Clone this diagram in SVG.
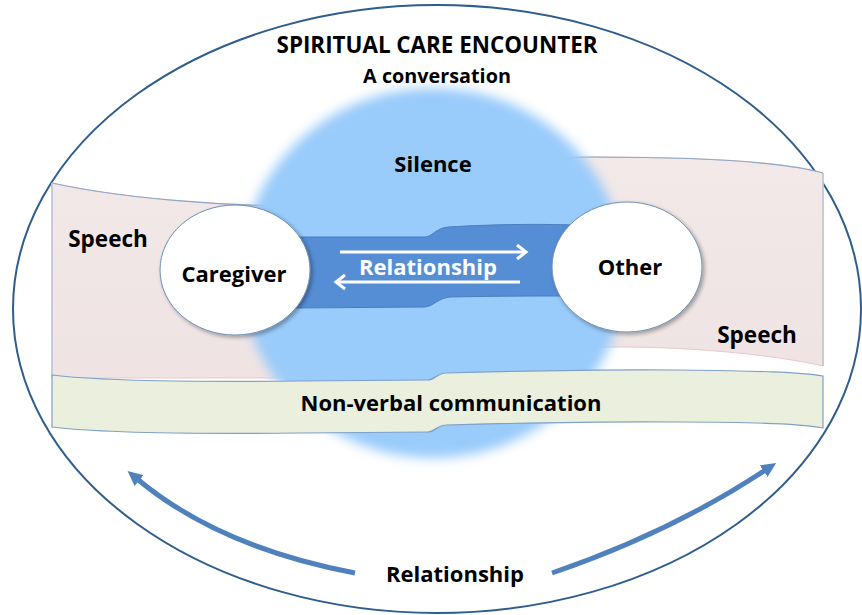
<svg xmlns="http://www.w3.org/2000/svg" width="862" height="615" viewBox="0 0 862 615">
  <defs>
    <style>
      .lbl { font-family: "Open Sans", Lato, "Liberation Sans", sans-serif; font-weight: bold; fill: #000; text-anchor: middle; }
      .title { font-size: 22.4px; }
      .big { font-size: 22px; }
      .mid { font-size: 22.5px; }
      .sm { font-size: 19.8px; }
      .white { fill: #fff; }
      .node-ell { fill: #fff; stroke: #6F8FB8; stroke-width: 1; filter: url(#shadow); }
      .arc { fill: none; stroke: #4F81BD; stroke-width: 5; }
      .inner { fill: none; stroke: #fff; stroke-width: 3; }
    </style>
    <filter id="blur" x="-20%" y="-20%" width="140%" height="140%">
      <feGaussianBlur stdDeviation="6"/>
    </filter>
    <filter id="shadow" x="-20%" y="-20%" width="140%" height="140%">
      <feGaussianBlur in="SourceAlpha" stdDeviation="2"/>
      <feOffset dx="2" dy="2" result="o"/>
      <feComponentTransfer><feFuncA type="linear" slope="0.35"/></feComponentTransfer>
      <feMerge><feMergeNode/><feMergeNode in="SourceGraphic"/></feMerge>
    </filter>
    <linearGradient id="pink" x1="0" y1="0" x2="0" y2="1">
      <stop offset="0" stop-color="#F3E9E9"/>
      <stop offset="1" stop-color="#EFE3E3"/>
    </linearGradient>
    <marker id="tri" markerUnits="userSpaceOnUse" markerWidth="16" markerHeight="14" viewBox="0 0 16 14" refX="4" refY="7" orient="auto">
      <path d="M0,0 L15,7 L0,14 Z" fill="#4F81BD"/>
    </marker>
    <marker id="chev" markerUnits="userSpaceOnUse" markerWidth="14" markerHeight="18" viewBox="0 0 14 18" refX="11" refY="9" orient="auto">
      <path d="M2,2 L11,9 L2,16" fill="none" stroke="#fff" stroke-width="3"/>
    </marker>
  </defs>

  <rect width="862" height="615" fill="#fff"/>

  <g id="encounter">
    <ellipse cx="437" cy="309" rx="424" ry="304" fill="none" stroke="#2F5D8C" stroke-width="2"/>
  </g>

  <g id="speech-band">
    <path d="M52,183 C120,198 220,206 300,206 C380,206 480,157 590,157 C700,157 780,161 823,173 L823,366 C780,356 700,347 620,347 C520,347 440,378 300,378 L52,378 Z" fill="url(#pink)" stroke="#E8C8CC" stroke-width="1"/>
    <path d="M52,183 C120,198 220,206 300,206 C380,206 480,157 590,157 C700,157 780,161 823,173" fill="none" stroke="#8EA8C9" stroke-width="1.2"/>
    <path d="M52,183 L52,378 M823,173 L823,366" fill="none" stroke="#B9C6D8" stroke-width="1.5"/>
  </g>

  <g id="silence">
    <ellipse cx="433" cy="273" rx="192" ry="185" fill="#99CBFB" filter="url(#blur)"/>
  </g>

  <g id="non-verbal">
    <path d="M52,375 C100,381 200,382 300,381 L428,380 C434,380 438,373 446,373 C520,371 600,369 680,370 C760,371 800,372 823,376 L823,428 C800,424 760,422 680,422 C600,421 520,423 446,425 C438,425 434,432 428,432 L300,433 C200,434 100,433 52,427 Z" fill="#EBF0DE" stroke="#7FA0C8" stroke-width="1.2"/>
  </g>

  <g id="relationship-band">
    <path d="M292,237 L425,237 C432,237 436,228 448,227 C500,224 540,224 575,225 L575,296 C540,296 500,296 450,297 C438,298 434,306 425,307 L292,308 Z" fill="#558ED5" stroke="#4A7EBF" stroke-width="1"/>
  </g>

  <g id="caregiver">
    <ellipse class="node-ell" cx="235" cy="270" rx="75" ry="65"/>
    <text class="lbl big" x="234" y="282">Caregiver</text>
  </g>

  <g id="other">
    <ellipse class="node-ell" cx="627" cy="267" rx="75" ry="65"/>
    <text class="lbl big" x="630" y="275">Other</text>
  </g>

  <g id="connectors">
    <path class="inner" d="M340,252 L526,252" marker-end="url(#chev)"/>
    <path class="inner" d="M520,282 L336,282" marker-end="url(#chev)"/>
    <path class="arc" d="M355,573 Q218,547 136,478" marker-end="url(#tri)"/>
    <path class="arc" d="M552,573 Q672,532 767,469" marker-end="url(#tri)"/>
  </g>

  <g id="labels">
    <text class="lbl title" x="437" y="53">SPIRITUAL CARE ENCOUNTER</text>
    <text class="lbl sm" x="437" y="83">A conversation</text>
    <text class="lbl big" x="433" y="172">Silence</text>
    <text class="lbl mid" x="108" y="247">Speech</text>
    <text class="lbl mid" x="757" y="343">Speech</text>
    <text class="lbl big white" x="428" y="275">Relationship</text>
    <text class="lbl big" x="451" y="411">Non-verbal communication</text>
    <text class="lbl big" x="455" y="582">Relationship</text>
  </g>
</svg>
